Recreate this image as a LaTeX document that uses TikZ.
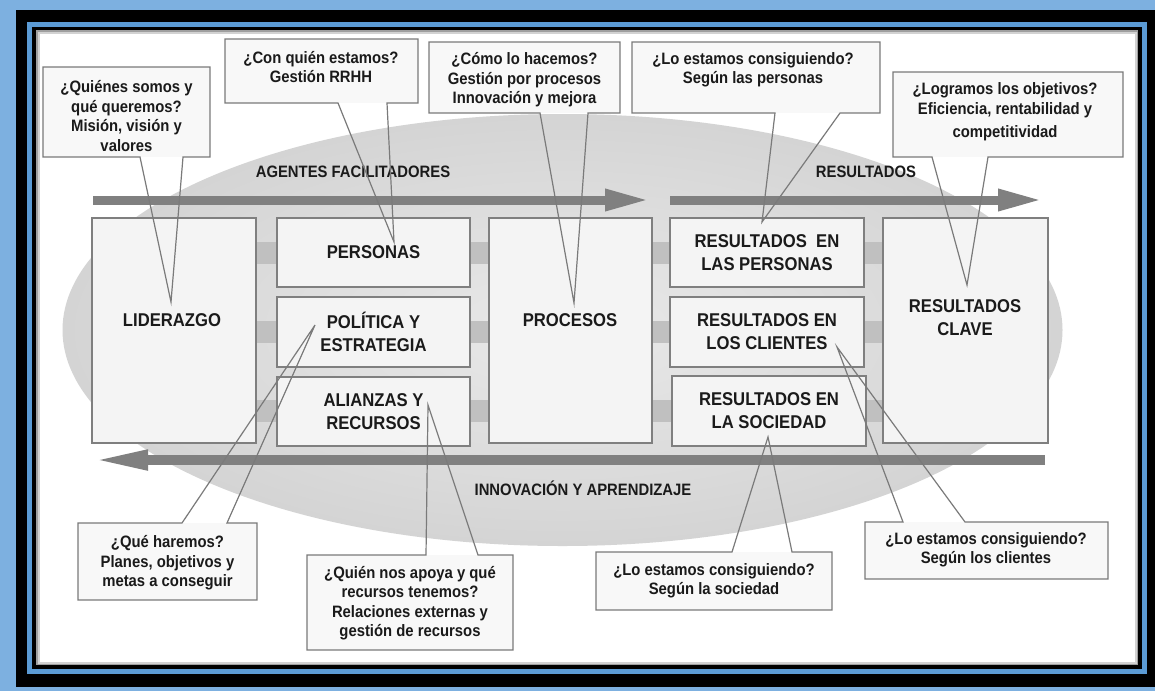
\documentclass[tikz,border=0pt]{standalone}
\usepackage{fontspec}
\setmainfont{Liberation Sans}[FakeStretch=0.9]
\usetikzlibrary{arrows.meta}
\definecolor{outerblue}{HTML}{7DB0E0}
\definecolor{lineblue}{HTML}{5B9BD5}
\definecolor{ellgray}{HTML}{D4D4D4}
\definecolor{ellin}{HTML}{E9E9E9}
\definecolor{bargray}{HTML}{C0C0C0}
\definecolor{arrgray}{HTML}{808080}
\definecolor{boxline}{HTML}{7F7F7F}
\definecolor{boxfill}{HTML}{F4F4F4}
\definecolor{callfill}{HTML}{F8F8F8}
\definecolor{callline}{HTML}{7A7A7A}
\definecolor{txt}{HTML}{1A1A1A}
\begin{document}
\begin{tikzpicture}[x=1pt,y=-1pt,
  bigbox/.style={draw=boxline, fill=boxfill, line width=1.4pt, inner sep=0pt, outer sep=0pt},
  boxtext/.style={text=txt, font=\bfseries\fontsize{18.5}{23}\selectfont, align=center, inner sep=0pt},
  lbltext/.style={text=txt, font=\bfseries\fontsize{16.5}{19}\selectfont, inner sep=0pt},
  callbody/.style={fill=callfill, draw=none, inner sep=0pt, outer sep=0pt},
  calltext/.style={text=txt, font=\bfseries\fontsize{16.5}{19.5}\selectfont, align=center, inner sep=0pt},
  callout/.style={draw=callline, line width=1.2pt, line join=miter},
  bigarrow/.style={draw=arrgray, line width=9pt, -{Triangle[length=45pt,width=20pt]}},
  backarrow/.style={draw=arrgray, line width=10pt, -{Triangle[length=58pt,width=18pt]}}
]
\useasboundingbox (0,0) rectangle (1155,691);
% frame
\fill[outerblue] (0,0) rectangle (1155,691);
\fill[black] (16,10) rectangle (1155,687);
\draw[lineblue, line width=5pt] (29.5,24) rectangle (1144.5,671.5);
\fill[gray!75] (36,30) rectangle (1138,665);
\fill[gray!35] (37.5,31.5) rectangle (1136.5,663.5);
\fill[white] (39.5,33.5) rectangle (1134.5,661.5);
% ellipse
\shade[inner color=ellin, outer color=ellgray] (562.5,330) ellipse [x radius=500, y radius=216];
% bars
\fill[bargray] (92,242) rectangle (1048,264);
\fill[bargray] (92,321) rectangle (1048,343);
\fill[bargray] (92,400) rectangle (1048,422);
% arrows
\coordinate (a1s) at (93,200);
\coordinate (a1e) at (650,200);
\coordinate (a2s) at (670,200);
\coordinate (a2e) at (1043,200);
\coordinate (a3s) at (1045,460);
\coordinate (a3e) at (90,460);
\draw[bigarrow] (a1s) -- (a1e);
\draw[bigarrow] (a2s) -- (a2e);
\draw[backarrow] (a3s) -- (a3e);
% labels
\node[lbltext] (lagf) at (353,172) {AGENTES FACILITADORES};
\node[lbltext] (lres) at (866,172) {RESULTADOS};
\node[lbltext] (linn) at (583,488) {INNOVACIÓN Y APRENDIZAJE};
% boxes
\node[bigbox, minimum width=164pt, minimum height=225pt] (lid) at (174,330.5) {};
\node[boxtext] (lidt) at (172,320) {LIDERAZGO};
\node[bigbox, boxtext, minimum width=193pt, minimum height=69pt] (per) at (373.5,252.5) {PERSONAS};
\node[bigbox, boxtext, minimum width=193pt, minimum height=70pt] (pol) at (373.5,332) {POLÍTICA Y\\ESTRATEGIA};
\node[bigbox, boxtext, minimum width=193pt, minimum height=69pt] (ali) at (373.5,411.5) {ALIANZAS Y\\RECURSOS};
\node[bigbox, minimum width=163pt, minimum height=225pt] (pro) at (570.5,330.5) {};
\node[boxtext] (prot) at (570,320) {PROCESOS};
\node[bigbox, boxtext, minimum width=194pt, minimum height=69pt] (rper) at (767,252.5) {RESULTADOS\ \ EN\\LAS PERSONAS};
\node[bigbox, boxtext, minimum width=194pt, minimum height=70pt] (rcli) at (767,332) {RESULTADOS EN\\LOS CLIENTES};
\node[bigbox, boxtext, minimum width=194pt, minimum height=70pt] (rsoc) at (769,411) {RESULTADOS EN\\LA SOCIEDAD};
\node[bigbox, minimum width=165pt, minimum height=225pt] (rcla) at (965.5,330.5) {};
\node[boxtext] (rclat) at (965,318) {RESULTADOS\\CLAVE};
% callout 1
\node[callbody, minimum width=167pt, minimum height=90pt] (c1) at (126.5,112) {};
\coordinate (t1) at (171,302);
\draw[callout] (140,157) -- (c1.south west) -- (c1.north west) -- (c1.north east) -- (c1.south east) -- (183,157) -- (t1) -- cycle;
\node[calltext] (c1t) at (126.5,116) {¿Quiénes somos y\\qué queremos?\\Misión, visión y\\valores};
% callout 2
\node[callbody, minimum width=193pt, minimum height=64pt] (c2) at (321.5,71) {};
\coordinate (t2) at (394,242);
\draw[callout] (338,103) -- (c2.south west) -- (c2.north west) -- (c2.north east) -- (c2.south east) -- (387,103) -- (t2) -- cycle;
\node[calltext] (c2t) at (321,67) {¿Con quién estamos?\\Gestión RRHH};
% callout 3
\node[callbody, minimum width=191pt, minimum height=71pt] (c3) at (524.5,77.5) {};
\coordinate (t3) at (574,303);
\draw[callout] (540,113) -- (c3.south west) -- (c3.north west) -- (c3.north east) -- (c3.south east) -- (588,113) -- (t3) -- cycle;
\node[calltext] (c3t) at (524.5,80) {¿Cómo lo hacemos?\\Gestión por procesos\\Innovación y mejora};
% callout 4
\node[callbody, minimum width=248pt, minimum height=71pt] (c4) at (756,77.5) {};
\coordinate (t4) at (762,222);
\draw[callout] (775,113) -- (c4.south west) -- (c4.north west) -- (c4.north east) -- (c4.south east) -- (840,113) -- (t4) -- cycle;
\node[calltext] (c4t) at (753,70) {¿Lo estamos consiguiendo?\\Según las personas};
% callout 5
\node[callbody, minimum width=230pt, minimum height=85pt] (c5) at (1008,114.5) {};
\coordinate (t5) at (967,285);
\draw[callout] (932,157) -- (c5.south west) -- (c5.north west) -- (c5.north east) -- (c5.south east) -- (988,157) -- (t5) -- cycle;
\node[calltext] (c5t) at (1005,112) {¿Logramos los objetivos?\\Eficiencia, rentabilidad y\\[4pt]competitividad};
% callout 6
\node[callbody, minimum width=179pt, minimum height=77pt] (c6) at (167.5,561.5) {};
\coordinate (t6) at (315,325);
\draw[callout] (182,523) -- (c6.north west) -- (c6.south west) -- (c6.south east) -- (c6.north east) -- (227,523) -- (t6) -- cycle;
\node[calltext] (c6t) at (167.5,563) {¿Qué haremos?\\Planes, objetivos y\\metas a conseguir};
% callout 7
\node[callbody, minimum width=206pt, minimum height=95pt] (c7) at (410,602.5) {};
\coordinate (t7) at (428,405);
\draw[callout] (426,555) -- (c7.north west) -- (c7.south west) -- (c7.south east) -- (c7.north east) -- (478,555) -- (t7) -- cycle;
\node[calltext] (c7t) at (410,603) {¿Quién nos apoya y qué\\recursos tenemos?\\Relaciones externas y\\gestión de recursos};
% callout 8
\node[callbody, minimum width=236pt, minimum height=58pt] (c8) at (714,581) {};
\coordinate (t8) at (768,437);
\draw[callout] (732,552) -- (c8.north west) -- (c8.south west) -- (c8.south east) -- (c8.north east) -- (792,552) -- (t8) -- cycle;
\node[calltext] (c8t) at (714,581) {¿Lo estamos consiguiendo?\\Según la sociedad};
% callout 9
\node[callbody, minimum width=243pt, minimum height=57pt] (c9) at (986.5,550.5) {};
\coordinate (t9) at (837,347);
\draw[callout] (903,522) -- (c9.north west) -- (c9.south west) -- (c9.south east) -- (c9.north east) -- (965,522) -- (t9) -- cycle;
\node[calltext] (c9t) at (986,550) {¿Lo estamos consiguiendo?\\Según los clientes};
\end{tikzpicture}
\end{document}
